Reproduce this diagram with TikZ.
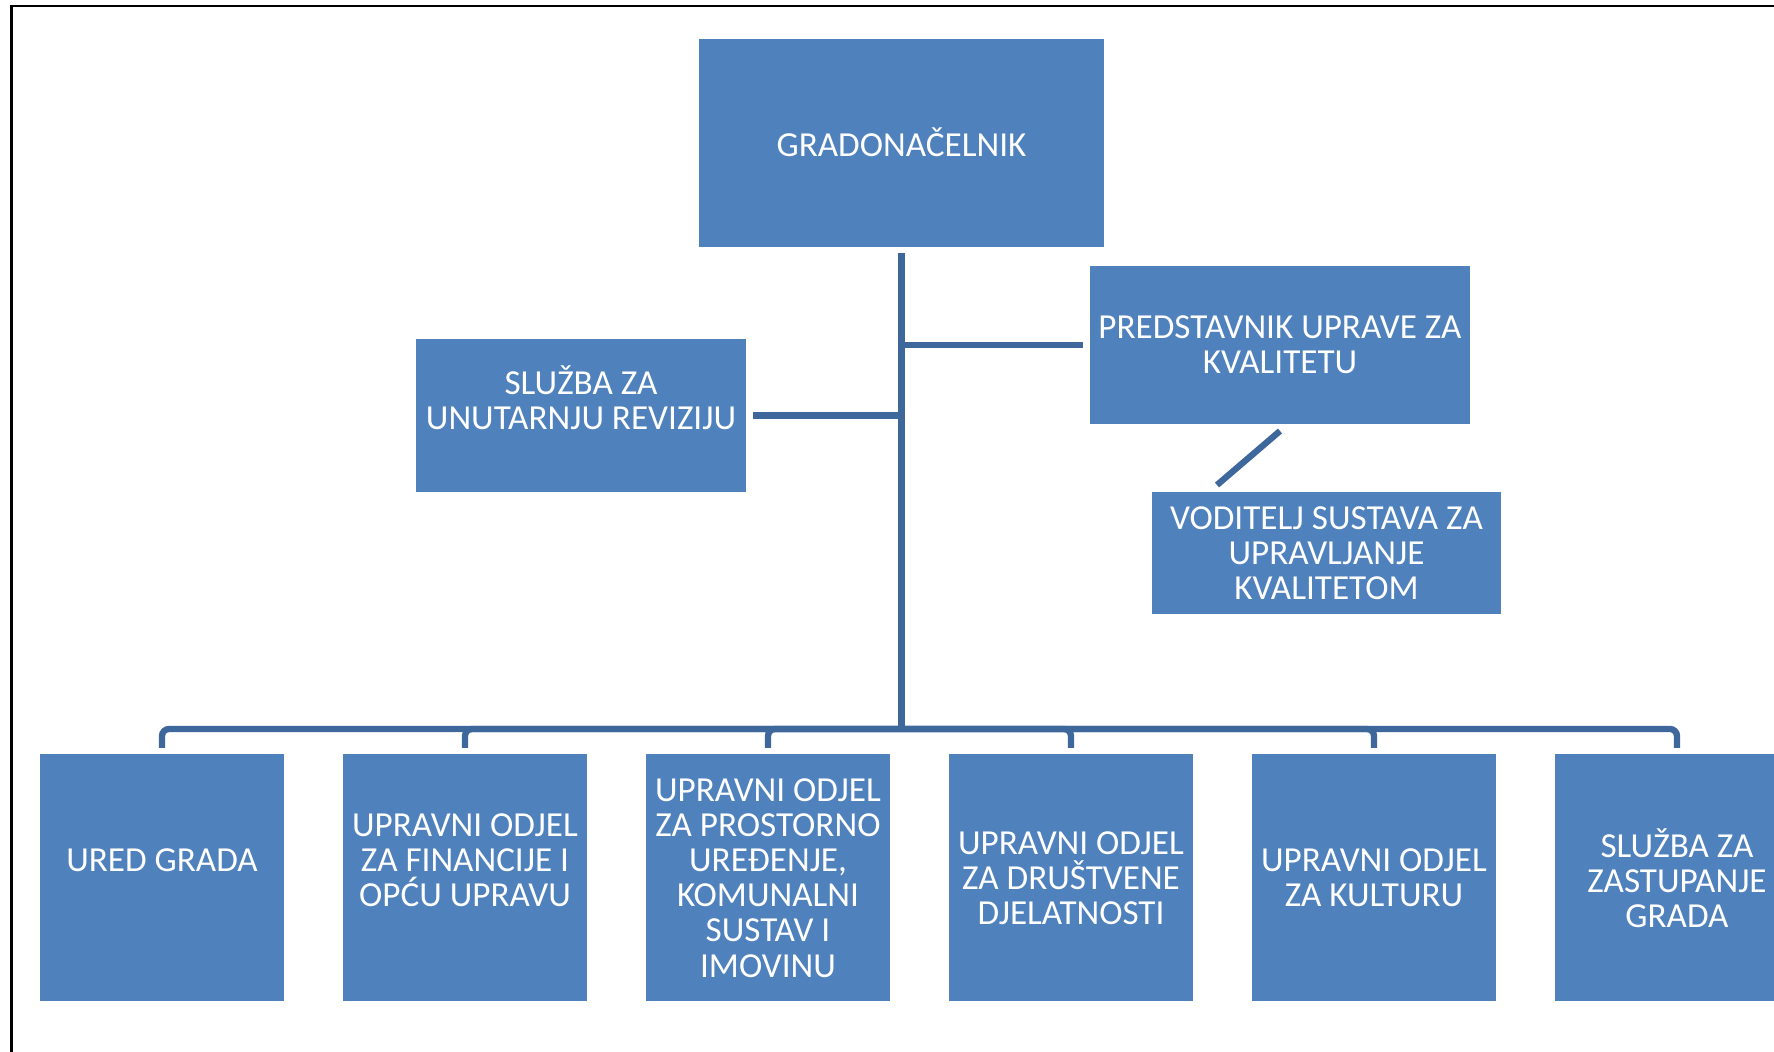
\documentclass[tikz,border=0pt]{standalone}
\usepackage{fontspec}
\setmainfont{Carlito}
\usetikzlibrary{positioning}
\definecolor{boxblue}{RGB}{79,129,189}
\definecolor{linkblue}{RGB}{62,104,156}
\tikzset{
box/.style={fill=boxblue, text=white, align=center, inner sep=0pt, outer sep=0pt,
  font=\fontsize{10}{10}\selectfont},
dept/.style={box, minimum width=2.44cm, minimum height=2.47cm},
link/.style={draw=linkblue, line width=1.8pt, rounded corners=2pt},
}

\begin{document}
\begin{tikzpicture}
    \useasboundingbox[fill=white] (0,0) rectangle (17.74,-10.52);
    \draw[line width=0.8pt] (17.74,-0.06) -- (0.113,-0.06) -- (0.113,-10.52);

        \node[box, minimum width=4.05cm, minimum height=2.08cm] (grad) at (9.015,-1.426) {GRADONAČELNIK};
        \node[box, minimum width=3.80cm, minimum height=1.58cm] (pred) at (12.80,-3.45) {PREDSTAVNIK UPRAVE ZA\\KVALITETU};
        \node[box, minimum width=3.30cm, minimum height=1.53cm] (sur) at (5.81,-4.155) {SLUŽBA ZA\\UNUTARNJU REVIZIJU\\ \mbox{}};
        \node[box, minimum width=3.49cm, minimum height=1.22cm] (vod) at (13.265,-5.53) {VODITELJ SUSTAVA ZA\\UPRAVLJANJE\\KVALITETOM};

        \node[dept] (ured) at (1.62,-8.78) {URED GRADA\\ \mbox{}};
        \node[dept, right=0.59cm of ured] (fin) {UPRAVNI ODJEL\\ZA FINANCIJE I\\OPĆU UPRAVU\\ \mbox{}};
        \node[dept, right=0.59cm of fin] (prost) {UPRAVNI ODJEL\\ZA PROSTORNO\\UREĐENJE,\\KOMUNALNI\\SUSTAV I\\IMOVINU};
        \node[dept, right=0.59cm of prost] (drus) {UPRAVNI ODJEL\\ZA DRUŠTVENE\\DJELATNOSTI};
        \node[dept, right=0.59cm of drus] (kult) {UPRAVNI ODJEL\\ZA KULTURU};
        \node[dept, right=0.59cm of kult] (zast) {SLUŽBA ZA\\ZASTUPANJE\\GRADA};

        \coordinate (hub) at (9.015,-7.29);
        \draw[link] ([yshift=-0.065cm]grad.south) -- (hub);
        \draw[link] ([xshift=0.07cm]sur.east) -- (sur.east -| hub);
        \draw[link] ([xshift=-0.07cm]pred.west) -- (pred.west -| hub);
        \draw[link] ([yshift=-0.07cm]pred.south) -- ([xshift=-1.095cm,yshift=0.07cm]vod.north);
        \foreach \d in {ured, fin, prost, drus, kult, zast}
            \draw[link] ([yshift=0.065cm]\d.north) |- (hub);
    \end{tikzpicture}
\end{document}
